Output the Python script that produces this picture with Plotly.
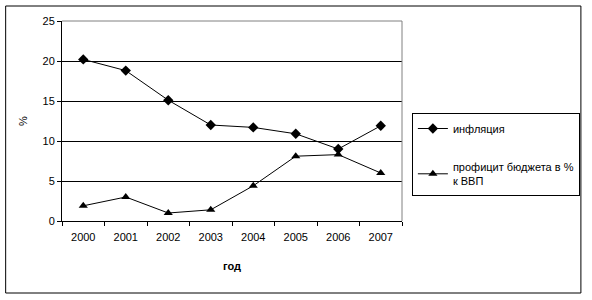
import plotly.graph_objects as go

years = ["2000", "2001", "2002", "2003", "2004", "2005", "2006", "2007"]
inflation = [20.2, 18.8, 15.1, 12.0, 11.7, 10.9, 9.0, 11.9]
surplus = [1.9, 3.0, 1.0, 1.4, 4.4, 8.1, 8.3, 6.0]
name_infl = "инфляция"
name_surp = "профицит бюджета в %<br>к ВВП"

fig = go.Figure()
fig.add_trace(go.Scatter(x=years, y=inflation, name=name_infl, mode="lines+markers",
                         line=dict(color="black", width=1),
                         marker=dict(symbol="diamond", size=8, color="black"),
                         legendgroup="a"))
fig.add_trace(go.Scatter(x=years, y=surplus, name=name_surp, mode="lines+markers",
                         line=dict(color="black", width=1),
                         marker=dict(symbol="triangle-up", size=8, color="black"),
                         legendgroup="b"))

font = dict(family="Liberation Sans, Arial, sans-serif", size=11, color="black")
fig.update_layout(
    width=592, height=300,
    margin=dict(l=62, r=186, t=21, b=79),
    paper_bgcolor="white", plot_bgcolor="white",
    font=font,
    showlegend=True,
    legend=dict(x=(416-62)/344, y=0.54, xanchor="left", yanchor="top",
                bordercolor="black", borderwidth=1, bgcolor="white",
                traceorder="grouped", tracegroupgap=20,
                font=dict(family="Liberation Sans, Arial, sans-serif", size=11),
                itemwidth=30),
    xaxis=dict(type="category", showline=True, linecolor="black", linewidth=1,
               ticks="outside", ticklen=4, tickcolor="black", tickson="boundaries",
               showgrid=False, range=[-0.5, 7.5], ticklabelstandoff=6,
               title=dict(text="<b>год</b>", font=dict(size=11), standoff=20)),
    yaxis=dict(range=[0, 25], dtick=5, showline=True, linecolor="black", linewidth=1,
               ticks="outside", ticklen=4, tickcolor="black",
               showgrid=True, gridcolor="black", gridwidth=1, zeroline=False,
               title=dict(text="%", font=dict(size=11), standoff=12)),
    shapes=[
        dict(type="line", xref="paper", yref="paper", x0=0, x1=1, y0=1, y1=1,
             line=dict(color="#808080", width=1)),
        dict(type="line", xref="paper", yref="paper", x0=1, x1=1, y0=0, y1=1,
             line=dict(color="#808080", width=1)),
        dict(type="rect", xref="paper", yref="paper",
             x0=-57/344, x1=525/344, y0=-72/200, y1=215/200,
             line=dict(color="black", width=1)),
    ],
)
fig.write_html("out.html")
